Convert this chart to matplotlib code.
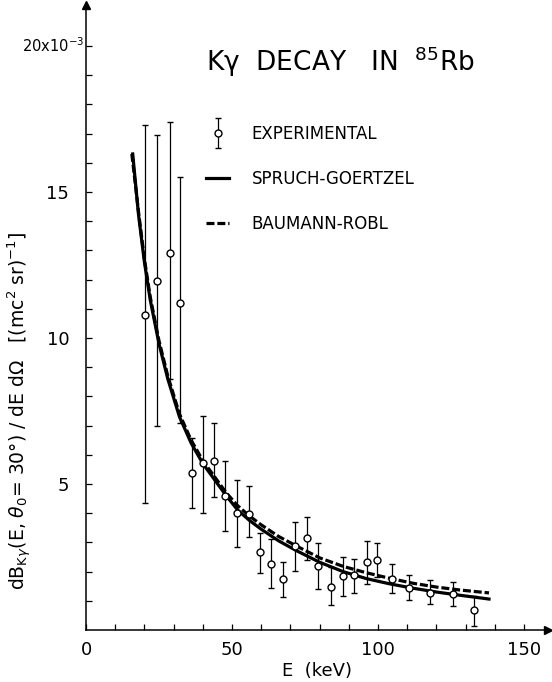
import numpy as np
import matplotlib
matplotlib.use('Agg')
import matplotlib.pyplot as plt
from matplotlib.container import ErrorbarContainer
from matplotlib.legend_handler import HandlerErrorbar

# experimental points (E in keV, value in units of 1e-3)
E_exp = [20.2, 24.3, 28.8, 32.2, 36.3, 40.1, 43.8, 47.6, 51.7, 55.8, 59.6, 63.4, 67.5,
         71.6, 75.7, 79.5, 83.9, 88.0, 91.8, 96.2, 99.7, 104.8, 110.6, 117.8, 125.7, 132.9]
y_exp = [10.8, 11.95, 12.9, 11.2, 5.38, 5.72, 5.79, 4.59, 4.0, 3.97, 2.67, 2.26, 1.75,
         2.88, 3.15, 2.19, 1.47, 1.85, 1.88, 2.33, 2.4, 1.75, 1.44, 1.27, 1.23, 0.68]
y_hi = [17.3, 16.95, 17.4, 15.5, 6.58, 7.33, 7.09, 5.79, 5.14, 4.93, 3.32, 3.12, 2.33,
        3.7, 3.87, 2.98, 2.16, 2.5, 2.43, 3.05, 2.98, 2.26, 1.88, 1.71, 1.64, 1.16]
y_lo = [4.35, 6.99, 8.6, 7.1, 4.18, 4.0, 4.55, 3.39, 2.84, 3.18, 1.95, 1.44, 1.13,
        2.02, 2.4, 1.4, 0.86, 1.16, 1.27, 1.58, 1.82, 1.27, 1.03, 0.89, 0.82, 0.14]

# theory curves
E_sg = [16, 18, 20, 22, 25, 28, 32, 36, 40, 44, 48, 52, 56, 60, 66, 72, 80, 88, 96,
        104, 112, 120, 128, 138]
y_sg = [16.3, 14.2, 12.6, 11.3, 9.8, 8.6, 7.3, 6.4, 5.7, 5.15, 4.6, 4.1, 3.75, 3.45,
        3.05, 2.72, 2.32, 2.0, 1.76, 1.58, 1.43, 1.3, 1.19, 1.06]
E_br = [15.7, 18, 20, 22, 25, 28, 32, 36, 40, 44, 48, 52, 56, 60, 66, 72, 80, 88, 96,
        104, 112, 120, 128, 138]
y_br = [16.3, 14.3, 12.7, 11.4, 9.9, 8.7, 7.4, 6.5, 5.8, 5.25, 4.7, 4.25, 3.9, 3.6,
        3.2, 2.88, 2.47, 2.18, 1.96, 1.77, 1.6, 1.47, 1.37, 1.27]

xticks = [0, 50, 100, 150]
xticklabels = ['0', '50', '100', '150']
yticks = [5, 10, 15, 20]
yticklabels = ['5', '10', '15', '']
top_label = r'20x10$^{-3}$'

plt.rcParams['font.family'] = 'DejaVu Sans'
plt.rcParams['mathtext.fontset'] = 'dejavusans'

fig = plt.figure(figsize=(5.52, 6.82), dpi=100)
ax = fig.add_axes([86/552, 52/682, 462/552, 625/682])

ax.plot(E_sg, y_sg, 'k-', lw=2.3, label='SPRUCH-GOERTZEL', zorder=2)
ax.plot(E_br, y_br, 'k', ls=(0, (2.5, 0.9)), lw=2.3, label='BAUMANN-ROBL', zorder=2)

y = np.array(y_exp)
yerr = [y - np.array(y_lo), np.array(y_hi) - y]
eb = ax.errorbar(E_exp, y, yerr=yerr, fmt='o', color='k', mfc='white', mec='k',
                 ms=5, mew=1.0, elinewidth=0.9, capsize=2.3, capthick=0.9,
                 label='EXPERIMENTAL', zorder=3)

ax.set_xlim(0, 158.2)
ax.set_ylim(0, 21.4)
ax.spines['top'].set_visible(False)
ax.spines['right'].set_visible(False)
ax.spines['left'].set_linewidth(1.1)
ax.spines['bottom'].set_linewidth(1.1)

ax.set_xticks(xticks)
ax.set_xticklabels(xticklabels)
ax.set_xticks(np.arange(0, 151, 10), minor=True)
ax.set_yticks(yticks)
ax.set_yticklabels(yticklabels)
ax.set_yticks(np.arange(1, 21, 1), minor=True)
ax.tick_params(which='both', direction='in', length=4, width=0.9, labelsize=13)
ax.tick_params(axis='x', pad=8)
ax.tick_params(axis='y', pad=12)

# the top y label is smaller and sits close to the axis
ax.annotate(top_label, xy=(0, yticks[-1]), xycoords=('axes fraction', 'data'),
            xytext=(-1, 0), textcoords='offset points', ha='right', va='center',
            fontsize=10.5)

# arrow heads on the axes
ax.plot(1, 0, '>k', ms=6, transform=ax.transAxes, clip_on=False)
ax.plot(0, 1, '^k', ms=6, transform=ax.transAxes, clip_on=False)

ax.set_xlabel('E  (keV)', fontsize=13, labelpad=2)
fig.text(20/552, 1 - 411/682,
         r'dB$_{\mathrm{K}\gamma}$(E, $\theta_0$= 30°) / dE d$\Omega$   [(mc$^2$ sr)$^{-1}$]',
         rotation=90, ha='center', va='center', fontsize=13.5)

fig.text(340/552, 1 - 62/682, 'Kγ  DECAY   IN  $^{85}$Rb', ha='center',
         va='center', fontsize=19)

handles, labels = ax.get_legend_handles_labels()
order = [2, 0, 1]
ax.legend([handles[i] for i in order], [labels[i] for i in order],
          loc='upper left', bbox_to_anchor=(206/552, 1 - 125/682),
          bbox_transform=fig.transFigure, frameon=False, fontsize=12,
          handlelength=1.4, handletextpad=1.35, labelspacing=1.63,
          borderpad=0, borderaxespad=0,
          handler_map={ErrorbarContainer: HandlerErrorbar(xerr_size=0.9)})

fig.savefig('out.png', dpi=100)
